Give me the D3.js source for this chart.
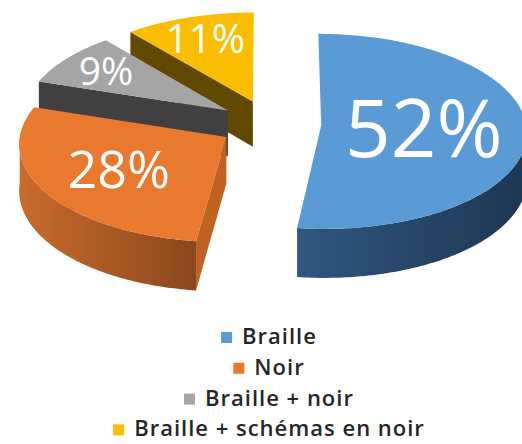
<!doctype html>
<html lang="fr">
<head>
<meta charset="utf-8">
<title>Répartition des supports</title>
<script src="https://d3js.org/d3.v7.min.js"></script>
<style>
  body { margin: 0; background: #fff; }
  svg { display: block; }
  .pct { fill: #fff; font-family: 'Open Sans', sans-serif; font-weight: 500; }
  .legend text { fill: #262626; font-family: 'Open Sans', sans-serif; font-size: 22px; font-weight: 600; letter-spacing: 1px; }
</style>
</head>
<body>
<svg width="522" height="444"></svg>
<script>
const categories = ['Braille', 'Noir', 'Braille + noir', 'Braille + schémas en noir'];
const values = [52, 28, 9, 11];
const labels = ['52%', '28%', '9%', '11%'];
const topColors = ['#5b9bd5', '#e8792f', '#a5a5a5', '#fbbd00'];
const wallLight = ['#305780', '#c96b2b', '#454545', '#6a5000'];
const wallDark = ['#1d3652', '#8a481c', '#3a3a3a', '#5c4500'];
const cutColors = ['#274669', '#c06222', '#404040', '#614900'];

const svg = d3.select('svg');

// pie geometry (flat pie seen from above with a little perspective)
const cx = 270, cy = 124;
const rx = 205, ry = 97;
const depth = 46;
const explode = 0.25;
const persp = 0.06;

const proj = (u, v, z) => {
  const p = 1 / (1 + persp * v);
  return [cx + rx * u * p, cy - ry * v * p + z * depth * p];
};

const arcs = d3.pie().sort(null).value(d => d)(values)
  .map((a, i) => {
    const mid = (a.startAngle + a.endAngle) / 2;
    return { ...a, i, mid, ou: Math.sin(mid) * explode, ov: Math.cos(mid) * explode };
  });

const rim = (s, a, z) => proj(s.ou + Math.sin(a), s.ov + Math.cos(a), z);
const ctr = (s, z) => proj(s.ou, s.ov, z);
const line = d3.line();

const arcPts = (s, a0, a1, z) => {
  const n = Math.max(2, Math.ceil(Math.abs(a1 - a0) / (Math.PI / 180)));
  return d3.range(n + 1).map(k => rim(s, a0 + (a1 - a0) * k / n, z));
};

const defs = svg.append('defs');
arcs.forEach(s => {
  const g = defs.append('linearGradient').attr('id', 'wall' + s.i);
  g.append('stop').attr('offset', '0%').attr('stop-color', wallLight[s.i]);
  g.append('stop').attr('offset', '100%').attr('stop-color', wallDark[s.i]);
});

const pie = svg.append('g');

// back to front
const order = arcs.slice().sort((a, b) => b.ov - a.ov);

order.forEach(s => {
  const g = pie.append('g');

  // radial cut faces facing the viewer
  [[s.startAngle, -1], [s.endAngle, 1]].forEach(([a, side]) => {
    const na = a + side * Math.PI / 2;
    if (Math.cos(na) < -0.01) {
      g.append('path')
        .attr('d', line([ctr(s, 0), rim(s, a, 0), rim(s, a, 1), ctr(s, 1)]) + 'Z')
        .attr('fill', cutColors[s.i]);
    }
  });

  // outer wall, front half only
  const lo = Math.max(s.startAngle, Math.PI / 2);
  const hi = Math.min(s.endAngle, 3 * Math.PI / 2);
  if (hi > lo) {
    const pts = arcPts(s, lo, hi, 0).concat(arcPts(s, hi, lo, 1));
    g.append('path')
      .attr('d', line(pts) + 'Z')
      .attr('fill', `url(#wall${s.i})`);
  }

  // top face
  const top = [ctr(s, 0)].concat(arcPts(s, s.startAngle, s.endAngle, 0));
  g.append('path')
    .attr('d', line(top) + 'Z')
    .attr('fill', topColors[s.i]);
});

// percentage labels: bigger slices get bigger text, small slices push label outward
const fontScale = d3.scaleLinear().domain([9, 28, 52]).range([39, 52, 80]);
const radScale = d3.scaleLinear().domain([9, 28, 52]).range([0.75, 0.6, 0.5]);
arcs.forEach(s => {
  const f = radScale(s.value);
  const fs = fontScale(s.value);
  const [x, y] = proj(s.ou + Math.sin(s.mid) * f, s.ov + Math.cos(s.mid) * f, 0);
  pie.append('text')
    .attr('class', 'pct')
    .attr('x', x)
    .attr('y', y + fs * 0.357)
    .attr('text-anchor', 'middle')
    .style('font-size', fs + 'px')
    .text(labels[s.i]);
});

// legend
const legend = svg.append('g').attr('class', 'legend');
const lx = 269, ly0 = 344, lstep = 30.8, sw = 11, gap = 10;
categories.forEach((c, i) => {
  const row = legend.append('g');
  const t = row.append('text')
    .attr('x', 0)
    .attr('y', ly0 + i * lstep)
    .text(c);
  const tw = t.node().getComputedTextLength();
  const x0 = lx - (sw + gap + tw) / 2;
  t.attr('x', x0 + sw + gap);
  row.append('rect')
    .attr('x', x0)
    .attr('y', ly0 + i * lstep - 12)
    .attr('width', sw)
    .attr('height', sw)
    .attr('fill', topColors[i]);
});
</script>
</body>
</html>
